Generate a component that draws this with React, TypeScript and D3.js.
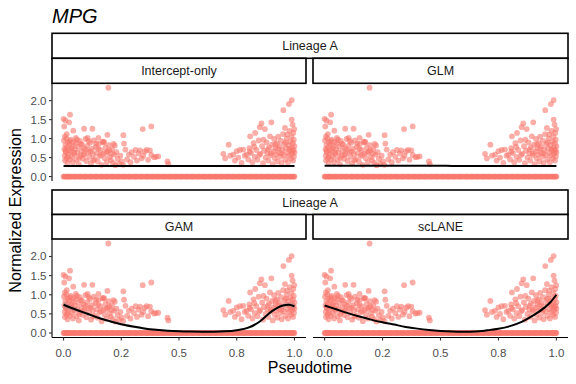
import React from "react";
import * as d3 from "d3";

// ---------- DATA ----------
// Cells with non-zero expression: pseudotime / expression
const cellPseudotime = [
  0.002,0.004,0.005,0.006,0.008,0.010,0.012,0.013,0.015,0.017,0.019,0.021,0.023,0.026,0.028,0.031,0.033,0.036,0.039,0.041,
  0.044,0.047,0.050,0.053,0.056,0.060,0.063,0.066,0.070,0.073,0.077,0.080,0.084,0.088,0.091,0.095,0.099,0.103,0.107,0.111,
  0.115,0.119,0.123,0.127,0.131,0.135,0.139,0.143,0.148,0.152,0.156,0.160,0.165,0.169,0.173,0.178,0.182,0.187,0.191,0.196,
  0.200,0.205,0.210,0.214,0.219,0.224,0.229,0.234,0.240,0.246,0.252,0.258,
  0.009,0.018,0.027,0.035,0.045,0.058,0.068,0.075,0.086,0.097,0.109,0.117,0.129,0.141,0.150,0.162,0.176,0.185,0.198,0.208,0.222,
  0.000,0.008,0.024,0.028,0.003,0.042,0.089,0.125,0.190,0.259,0.343,0.380,0.006,0.014,0.053,0.104,0.151,0.172,0.216,0.262,0.194,
  0.268,0.275,0.283,0.290,0.295,0.305,0.312,0.318,0.325,0.331,0.338,0.345,0.352,0.360,0.366,0.374,0.380,0.392,0.400,0.410,0.450,0.454,
  0.692,0.700,0.715,0.722,0.735,0.742,0.750,0.757,0.764,0.771,0.778,0.785,0.793,0.800,0.805,0.808,0.812,0.818,0.823,0.828,
  0.830,0.835,0.840,0.845,0.850,0.852,0.857,0.860,0.864,0.868,0.872,0.875,0.879,0.883,0.887,0.890,0.894,0.897,0.900,0.903,
  0.906,0.909,0.912,0.915,0.918,0.921,0.924,0.927,0.930,0.933,0.936,0.939,0.942,0.945,0.948,0.951,0.952,0.954,0.957,0.959,
  0.961,0.963,0.966,0.969,0.970,0.972,0.974,0.976,0.977,0.979,0.981,0.983,0.985,0.987,0.988,0.988,0.989,0.990,0.992,0.993,
  0.994,0.995,0.996,0.997,0.998,0.999,1.000,1.000,
  0.806,0.826,0.848,0.866,0.885,0.899,0.917,0.929,0.944,0.962,0.978,0.991,
];
const cellExpression = [
  0.95,0.72,0.55,0.42,0.83,0.64,1.00,0.48,0.77,0.36,0.90,0.60,0.70,0.85,0.45,0.97,0.66,0.52,0.80,0.38,
  0.91,0.58,0.72,0.88,0.44,0.63,0.79,0.33,0.94,0.55,0.68,0.84,0.47,0.74,0.60,0.99,0.41,0.81,0.65,0.52,
  0.89,0.35,0.73,0.59,0.95,0.46,0.78,0.62,0.40,0.86,0.54,0.70,0.31,0.92,0.61,0.48,0.76,0.38,0.66,0.83,
  0.51,0.43,0.72,0.36,0.58,0.30,0.64,0.47,0.34,0.55,0.40,0.31,
  0.68,0.52,0.93,0.75,0.63,0.97,0.49,0.86,0.57,0.71,0.94,0.66,0.43,0.87,0.73,0.57,0.91,0.63,0.69,0.60,0.82,
  1.52,1.48,1.43,1.63,1.32,1.21,1.26,1.26,1.10,1.09,1.25,1.32,1.06,1.12,1.02,1.02,1.02,0.90,0.86,0.87,2.34,
  0.71,0.45,0.58,0.38,0.64,0.52,0.70,0.42,0.61,0.69,0.48,0.55,0.66,0.70,0.44,0.69,0.57,0.51,0.52,0.53,0.40,0.33,
  0.60,0.48,0.84,0.55,0.58,0.42,0.67,0.50,0.70,0.36,0.71,0.55,0.58,0.45,0.75,1.06,0.62,0.38,0.88,0.52,
  1.15,0.70,0.44,0.95,1.30,0.60,1.40,0.80,0.35,0.68,1.25,0.50,0.90,0.62,0.42,0.77,1.06,0.56,1.43,0.84,
  0.33,0.66,0.99,0.48,0.74,0.58,0.88,0.40,1.05,0.63,0.79,0.52,0.94,0.36,0.70,1.12,1.75,0.57,0.86,1.28,
  0.45,0.74,1.00,1.11,0.62,0.38,0.83,1.91,0.55,1.20,0.69,0.92,0.48,1.05,2.01,1.50,0.76,0.60,1.37,0.88,
  0.42,1.15,0.70,0.97,0.53,1.25,0.80,0.64,
  0.66,0.78,0.57,0.97,0.71,0.61,0.85,0.73,0.61,0.90,0.73,0.66,
];
// Cells with zero expression (pseudotime only)
const zeroPseudotime = [
  0.000,0.006,0.013,0.019,0.024,0.031,0.038,0.043,0.050,0.057,0.062,0.069,0.075,0.081,0.088,0.094,0.099,0.106,0.112,0.119,
  0.125,0.131,0.137,0.144,0.150,0.156,0.163,0.168,0.175,0.181,0.188,0.194,0.199,0.206,0.213,0.219,0.225,0.231,0.238,0.244,
  0.250,0.256,0.263,0.269,0.275,0.282,0.288,0.294,0.300,0.306,0.313,0.319,0.325,0.331,0.338,0.344,0.350,0.357,0.363,0.369,
  0.375,0.381,0.388,0.394,0.400,0.406,0.413,0.419,0.425,0.431,0.438,0.444,0.450,0.456,0.463,0.469,0.475,0.481,0.488,0.494,
  0.500,0.506,0.513,0.519,0.525,0.531,0.538,0.544,0.550,0.556,0.563,0.569,0.575,0.581,0.588,0.594,0.600,0.606,0.613,0.619,
  0.625,0.631,0.638,0.644,0.650,0.656,0.663,0.669,0.675,0.681,0.688,0.694,0.700,0.706,0.713,0.719,0.725,0.731,0.738,0.744,
  0.750,0.756,0.763,0.769,0.775,0.781,0.788,0.794,0.800,0.806,0.813,0.819,0.825,0.831,0.838,0.844,0.850,0.856,0.863,0.869,
  0.875,0.881,0.888,0.894,0.900,0.906,0.913,0.919,0.925,0.931,0.938,0.944,0.950,0.956,0.963,0.969,0.975,0.981,0.988,0.994,1.000,
  0.003,0.016,0.028,0.047,0.072,0.091,0.117,0.141,0.166,0.186,0.211,0.236,0.262,0.284,0.311,0.336,0.361,0.386,0.409,0.434,
  0.461,0.484,0.509,0.534,0.559,0.584,0.611,0.634,0.659,0.684,0.709,0.734,0.759,0.784,0.811,0.834,0.859,0.884,0.909,0.934,
  0.959,0.984,0.997,
];

// Fitted curves
const fitPseudotime = [0,0.05,0.1,0.15,0.2,0.25,0.3,0.35,0.4,0.45,0.5,0.55,0.6,0.65,0.7,0.75,0.8,0.85,0.9,0.95,0.975,1.0];
const interceptFit = [0.28,0.28,0.28,0.28,0.28,0.28,0.28,0.28,0.28,0.28,0.28,0.28,0.28,0.28,0.28,0.28,0.28,0.28,0.28,0.28,0.28,0.28];
const glmFit =       [0.285,0.285,0.284,0.284,0.284,0.283,0.283,0.283,0.282,0.282,0.282,0.281,0.281,0.281,0.28,0.28,0.28,0.28,0.279,0.279,0.279,0.279];
const gamFit =       [0.74,0.62,0.51,0.40,0.31,0.23,0.17,0.12,0.085,0.06,0.045,0.038,0.035,0.036,0.045,0.075,0.14,0.30,0.56,0.72,0.74,0.70];
const gamSE =        [0.09,0.05,0.04,0.03,0.03,0.03,0.03,0.025,0.025,0.02,0.02,0.02,0.02,0.02,0.025,0.025,0.03,0.03,0.035,0.04,0.05,0.08];
const sclaneFit =    [0.72,0.62,0.52,0.43,0.35,0.28,0.22,0.16,0.115,0.08,0.055,0.04,0.035,0.04,0.07,0.11,0.18,0.29,0.46,0.67,0.81,1.0];

const modelLabels = ["Intercept-only", "GLM", "GAM", "scLANE"];
const lineageLabel = "Lineage A";
const xTicks = [0, 0.25, 0.5, 0.75, 1];
const xTickLabels = ["0.0", "0.2", "0.5", "0.8", "1.0"];
const yTicks = [0, 0.5, 1, 1.5, 2];
const yTickLabels = ["0.0", "0.5", "1.0", "1.5", "2.0"];

// ---------- LAYOUT ----------
const W = 576, H = 384;
const cols = [{ x0: 52, x1: 306 }, { x0: 313, x1: 568 }];
const rows = [
  { stripTop: 33.3, stripH: 25, panelTop: 83.3, panelBottom: 181 },
  { stripTop: 190, stripH: 24.5, panelTop: 239, panelBottom: 337.5 },
];
const FONT = "'Liberation Sans', Arial, Helvetica, sans-serif";
const pointColor = "#F8766D";

const fits = [interceptFit, glmFit, gamFit, sclaneFit];

export default function App() {
  const yMin = 0, yMax = 2.34;
  const yPad = (yMax - yMin) * 0.05;
  const panels = modelLabels.map((label, i) => {
    const r = Math.floor(i / 2), c = i % 2;
    const row = rows[r], col = cols[c];
    const x = d3.scaleLinear().domain([-0.05, 1.05]).range([col.x0, col.x1]);
    const y = d3.scaleLinear().domain([yMin - yPad, yMax + yPad]).range([row.panelBottom, row.panelTop]);
    return { label, r, c, row, col, x, y, fit: fits[i], i };
  });

  return (
    <svg width={W} height={H} style={{ position: "absolute", left: 0, top: 0, background: "white" }} fontFamily={FONT}>
      <rect width={W} height={H} fill="white" />
      <text x={52} y={23} fontSize={20} fontStyle="italic" fill="#000">MPG</text>

      {rows.map((row, ri) => (
        <g key={"strip" + ri}>
          <rect x={cols[0].x0} y={row.stripTop} width={cols[1].x1 - cols[0].x0} height={row.stripH}
            fill="white" stroke="#000" strokeWidth={1.6} />
          <text x={(cols[0].x0 + cols[1].x1) / 2} y={row.stripTop + row.stripH / 2 + 4.4} textAnchor="middle"
            fontSize={12.5} fill="#1A1A1A">{lineageLabel}</text>
        </g>
      ))}

      {panels.map((p) => {
        const line = d3.line<number>().x((_, k) => p.x(fitPseudotime[k])).y((v) => p.y(v)).curve(d3.curveMonotoneX);
        const area = d3.area<number>().x((_, k) => p.x(fitPseudotime[k]))
          .y0((v, k) => p.y(v - gamSE[k])).y1((v, k) => p.y(v + gamSE[k])).curve(d3.curveMonotoneX);
        const subTop = p.row.stripTop + p.row.stripH;
        return (
          <g key={p.label}>
            <rect x={p.col.x0} y={subTop} width={p.col.x1 - p.col.x0} height={p.row.stripH}
              fill="white" stroke="#000" strokeWidth={1.6} />
            <text x={(p.col.x0 + p.col.x1) / 2} y={subTop + p.row.stripH / 2 + 4.4} textAnchor="middle"
              fontSize={12.5} fill="#1A1A1A">{p.label}</text>
            <g>
              {zeroPseudotime.map((t, k) => (
                <circle key={"z" + k} cx={p.x(t)} cy={p.y(0)} r={2.9} fill={pointColor} fillOpacity={0.6} />
              ))}
              {cellPseudotime.map((t, k) => (
                <circle key={"c" + k} cx={p.x(t)} cy={p.y(cellExpression[k])} r={2.9} fill={pointColor} fillOpacity={0.6} />
              ))}
            </g>
            {p.label === "GAM" && (
              <path d={area(p.fit) || ""} fill="#999999" fillOpacity={0.4} />
            )}
            <path d={line(p.fit) || ""} fill="none" stroke="#000" strokeWidth={2} />
            {/* y axis for left column */}
            {p.c === 0 && (
              <g>
                <line x1={p.col.x0} x2={p.col.x0} y1={p.row.panelTop} y2={p.row.panelBottom} stroke="#000" strokeWidth={1.1} />
                {yTicks.map((t, k) => (
                  <g key={"yt" + k}>
                    <line x1={p.col.x0 - 3} x2={p.col.x0} y1={p.y(t)} y2={p.y(t)} stroke="#333" strokeWidth={1.1} />
                    <text x={p.col.x0 - 5.5} y={p.y(t) + 4} textAnchor="end" fontSize={11.5} fill="#4D4D4D">{yTickLabels[k]}</text>
                  </g>
                ))}
              </g>
            )}
            {/* x axis for bottom row */}
            {p.r === 1 && (
              <g>
                <line x1={p.col.x0} x2={p.col.x1} y1={p.row.panelBottom} y2={p.row.panelBottom} stroke="#000" strokeWidth={1.1} />
                {xTicks.map((t, k) => (
                  <g key={"xt" + k}>
                    <line x1={p.x(t)} x2={p.x(t)} y1={p.row.panelBottom} y2={p.row.panelBottom + 3} stroke="#333" strokeWidth={1.1} />
                    <text x={p.x(t)} y={p.row.panelBottom + 19} textAnchor="middle" fontSize={11.5} fill="#4D4D4D">{xTickLabels[k]}</text>
                  </g>
                ))}
              </g>
            )}
          </g>
        );
      })}

      <text x={310} y={373} textAnchor="middle" fontSize={16} fill="#000">Pseudotime</text>
      <text transform={`translate(21,${(rows[0].panelTop + rows[1].panelBottom) / 2}) rotate(-90)`} textAnchor="middle"
        fontSize={16} fill="#000">Normalized Expression</text>
    </svg>
  );
}
